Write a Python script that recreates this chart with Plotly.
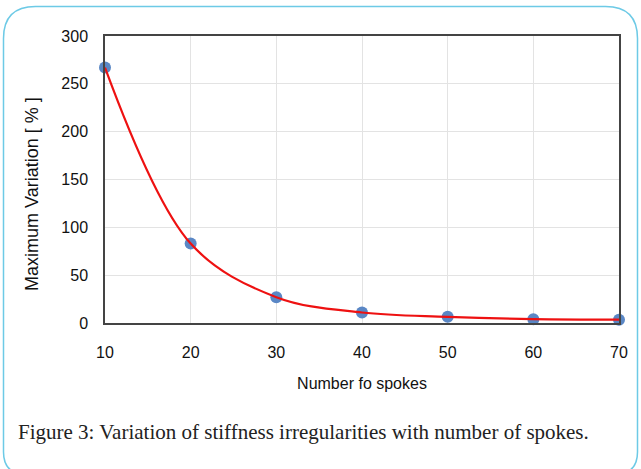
import plotly.graph_objects as go

spokes = [10, 20, 30, 40, 50, 60, 70]
variation = [267, 83, 27, 11, 6.5, 4, 3.5]
x_ticks = [10, 20, 30, 40, 50, 60, 70]
y_ticks = [0, 50, 100, 150, 200, 250, 300]

W, H = 641, 469
ML, MR, MT, MB = 105, 22, 36, 146
PW, PH = W - ML - MR, H - MT - MB

def px(x):
    return (x - ML) / PW

def py(y):
    return (H - MB - y) / PH

fig = go.Figure()
fig.add_trace(go.Scatter(x=spokes, y=variation, mode="markers",
                         marker=dict(size=12, color="#5a87c5"),
                         showlegend=False, cliponaxis=False))
fig.add_trace(go.Scatter(x=spokes, y=variation, mode="lines",
                         line=dict(color="#ee1111", width=2.2, shape="spline", smoothing=1.0),
                         showlegend=False, cliponaxis=False))

# rounded border
x0, x1, y0, y1 = 3.5, 637.5, 6.5, 474
rt, rb = 32, 22
path = (f"M {px(x0+rt)},{py(y0)} L {px(x1-rt)},{py(y0)} "
        f"Q {px(x1)},{py(y0)} {px(x1)},{py(y0+rt)} "
        f"L {px(x1)},{py(y1-rb)} Q {px(x1)},{py(y1)} {px(x1-rb)},{py(y1)} "
        f"L {px(x0+rb)},{py(y1)} Q {px(x0)},{py(y1)} {px(x0)},{py(y1-rb)} "
        f"L {px(x0)},{py(y0+rt)} Q {px(x0)},{py(y0)} {px(x0+rt)},{py(y0)} Z")
fig.add_shape(type="path", path=path, xref="paper", yref="paper",
              line=dict(color="#6dcae6", width=1.5), layer="below")

fig.add_annotation(text="Figure 3: Variation of stiffness irregularities with number of spokes.",
                   xref="paper", yref="paper", x=px(16), y=py(432),
                   xanchor="left", yanchor="middle", showarrow=False,
                   font=dict(family="Liberation Serif", size=21, color="#222222"))

fig.add_annotation(text="Maximum Variation [ % ]", textangle=-90,
                   xref="paper", yref="paper", x=px(32), y=py(194),
                   xanchor="center", yanchor="middle", showarrow=False,
                   font=dict(family="Liberation Sans", size=18, color="#111111"))

fig.update_layout(
    width=W, height=H,
    margin=dict(l=ML, r=MR, t=MT, b=MB),
    paper_bgcolor="white", plot_bgcolor="white",
    font=dict(family="Liberation Sans", size=16, color="#111111"),
)
fig.update_xaxes(range=[10, 70], tickvals=x_ticks, showgrid=True, gridcolor="#e3e3e3",
                 showline=True, linecolor="#444444", linewidth=1.5, mirror=True,
                 ticks="", zeroline=False, tickfont=dict(size=16), ticklabelstandoff=14,
                 title=dict(text="Number fo spokes", font=dict(size=16), standoff=18))
fig.update_yaxes(range=[0, 300], tickvals=y_ticks, showgrid=True, gridcolor="#e3e3e3",
                 showline=True, linecolor="#444444", linewidth=1.5, mirror=True,
                 ticks="", zeroline=False, tickfont=dict(size=16), ticklabelstandoff=12)

fig.write_html("out.html")
